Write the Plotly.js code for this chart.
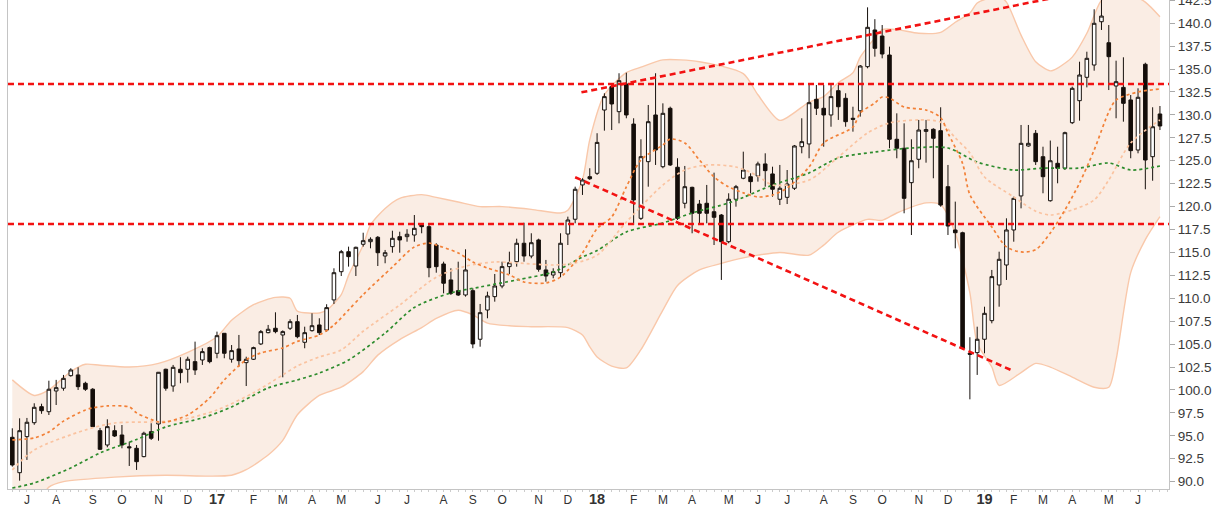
<!DOCTYPE html>
<html><head><meta charset="utf-8">
<script src="https://cdn.plot.ly/plotly-3.0.1.min.js"></script>
<style>html,body{margin:0;padding:0;background:#fff;}#chart{width:1218px;height:508px;}</style>
</head><body><div id="chart"></div>
<script>
const weeks = ['2016-06-20','2016-06-27','2016-07-04','2016-07-11','2016-07-18','2016-07-25','2016-08-01','2016-08-08','2016-08-15','2016-08-22',
'2016-08-29','2016-09-05','2016-09-12','2016-09-19','2016-09-26','2016-10-03','2016-10-10','2016-10-17','2016-10-24','2016-10-31',
'2016-11-07','2016-11-14','2016-11-21','2016-11-28','2016-12-05','2016-12-12','2016-12-19','2016-12-26','2017-01-02','2017-01-09',
'2017-01-16','2017-01-23','2017-01-30','2017-02-06','2017-02-13','2017-02-20','2017-02-27','2017-03-06','2017-03-13','2017-03-20',
'2017-03-27','2017-04-03','2017-04-10','2017-04-17','2017-04-24','2017-05-01','2017-05-08','2017-05-15','2017-05-22','2017-05-29',
'2017-06-05','2017-06-12','2017-06-19','2017-06-26','2017-07-03','2017-07-10','2017-07-17','2017-07-24','2017-07-31','2017-08-07',
'2017-08-14','2017-08-21','2017-08-28','2017-09-04','2017-09-11','2017-09-18','2017-09-25','2017-10-02','2017-10-09','2017-10-16',
'2017-10-23','2017-10-30','2017-11-06','2017-11-13','2017-11-20','2017-11-27','2017-12-04','2017-12-11','2017-12-18','2017-12-25',
'2018-01-01','2018-01-08','2018-01-15','2018-01-22','2018-01-29','2018-02-05','2018-02-12','2018-02-19','2018-02-26','2018-03-05',
'2018-03-12','2018-03-19','2018-03-26','2018-04-02','2018-04-09','2018-04-16','2018-04-23','2018-04-30','2018-05-07','2018-05-14',
'2018-05-21','2018-05-28','2018-06-04','2018-06-11','2018-06-18','2018-06-25','2018-07-02','2018-07-09','2018-07-16','2018-07-23',
'2018-07-30','2018-08-06','2018-08-13','2018-08-20','2018-08-27','2018-09-03','2018-09-10','2018-09-17','2018-09-24','2018-10-01',
'2018-10-08','2018-10-15','2018-10-22','2018-10-29','2018-11-05','2018-11-12','2018-11-19','2018-11-26','2018-12-03','2018-12-10',
'2018-12-17','2018-12-24','2018-12-31','2019-01-07','2019-01-14','2019-01-21','2019-01-28','2019-02-04','2019-02-11','2019-02-18',
'2019-02-25','2019-03-04','2019-03-11','2019-03-18','2019-03-25','2019-04-01','2019-04-08','2019-04-15','2019-04-22','2019-04-29',
'2019-05-06','2019-05-13','2019-05-20','2019-05-27','2019-06-03','2019-06-10','2019-06-17','2019-06-24'];

const open = [94.84,90.98,94.91,96.43,98.18,97.63,99.89,100.19,101.56,101.64,
100.73,100.08,95.56,94.0,95.56,95.09,93.8,93.64,92.73,95.45,
96.29,102.26,100.43,102.26,102.26,103.09,103.27,104.62,104.0,106.18,
103.35,104.47,102.98,103.35,105.02,106.25,106.73,106.0,106.73,107.45,
105.2,106.47,107.09,106.54,109.82,112.9,115.08,113.52,115.89,116.17,
116.65,114.61,115.63,116.72,116.72,116.9,117.99,117.81,115.81,113.74,
112.0,110.83,110.36,110.83,105.53,108.72,110.18,111.34,113.45,113.99,
116.0,114.61,116.36,113.09,112.54,112.79,117.01,118.62,122.36,123.26,
123.63,130.53,133.08,130.35,133.37,129.0,118.72,124.9,129.99,124.35,
130.72,124.29,120.36,122.1,120.28,120.36,119.44,119.08,116.17,120.8,
123.09,123.26,123.34,124.65,123.56,120.8,121.01,122.0,126.53,126.83,
131.7,130.72,129.99,132.64,131.81,129.63,130.45,135.26,139.26,138.6,
136.53,127.34,126.36,122.61,125.16,128.2,128.43,128.28,122.17,117.45,
117.15,104.0,104.07,105.53,107.56,111.45,113.63,117.45,121.16,126.61,
127.99,125.44,120.64,124.72,124.18,129.15,131.55,134.1,135.44,140.16,
137.87,133.15,133.0,131.63,126.17,135.52,125.44,130.1];

const high = [95.82,96.91,96.95,98.55,98.5,101.01,101.1,101.64,102.37,102.47,
100.9,100.2,95.86,96.8,96.15,96.18,94.36,94.0,95.45,96.37,
101.96,102.32,102.73,103.57,103.63,105.27,104.55,104.72,106.36,106.2,
104.9,106.0,103.63,104.72,106.54,107.09,108.47,106.5,107.71,108.18,
106.9,108.36,107.82,109.35,113.27,115.27,115.63,115.63,117.15,116.65,
116.79,115.27,117.37,117.26,117.53,119.08,118.18,117.99,116.0,113.99,
113.27,113.99,115.34,111.09,109.38,110.72,112.65,113.99,115.08,116.5,
118.24,117.09,116.5,114.18,113.27,117.09,118.9,122.17,123.09,124.18,
128.0,132.36,133.37,134.54,134.6,129.63,127.34,131.08,134.54,131.26,
130.9,125.27,124.43,122.17,120.72,122.36,123.7,119.19,121.45,122.36,
125.99,123.63,124.9,125.81,124.35,124.54,123.99,126.72,129.63,133.26,
133.26,133.26,133.26,133.26,132.36,130.89,135.44,141.73,140.44,139.8,
137.44,130.17,129.08,127.34,129.45,129.45,128.54,130.83,124.54,120.54,
117.26,105.75,106.9,109.08,113.09,115.08,118.72,121.08,128.9,128.9,
128.35,126.53,127.2,126.53,128.17,133.08,135.8,136.89,141.52,143.0,
139.8,135.91,136.28,132.17,132.9,135.69,130.83,130.97];

const low = [91.64,90.11,92.37,96.2,97.4,97.27,98.36,99.92,101.45,100.0,
99.9,95.96,93.46,93.75,94.87,93.64,91.71,91.28,92.66,94.55,
94.47,99.92,99.81,100.73,100.8,101.64,102.73,102.91,103.46,103.46,
102.98,102.54,100.43,103.27,104.9,106.18,106.18,101.38,106.54,105.64,
104.55,106.36,106.0,106.36,109.38,112.43,113.45,112.43,115.63,115.45,
113.52,113.82,114.97,114.97,116.17,116.17,117.09,112.29,112.79,110.54,
110.36,110.25,110.18,104.55,104.72,107.82,109.63,111.09,112.65,113.45,
113.99,114.36,112.9,111.81,112.18,112.29,115.81,118.18,121.27,122.9,
123.45,128.28,128.35,129.08,129.63,117.99,118.54,122.17,124.54,124.18,
124.43,118.54,119.81,117.09,118.18,118.18,115.81,112.0,116.0,119.99,
122.98,121.45,122.72,122.17,121.08,120.17,120.28,121.81,125.81,125.27,
129.99,126.53,128.71,129.45,128.71,128.17,129.81,135.08,136.35,136.17,
126.36,125.27,119.27,116.9,124.18,124.79,123.09,119.99,116.9,115.45,
104.44,98.98,101.64,104.0,107.27,109.08,112.0,116.17,119.81,126.53,
124.54,121.45,120.54,122.54,123.99,129.0,129.37,133.0,134.82,139.26,
132.71,129.63,129.26,125.27,125.81,121.89,122.82,128.35];

const close = [91.82,95.56,96.48,98.11,97.74,100.08,100.25,101.27,102.18,100.36,
100.08,96.0,93.53,96.0,94.98,94.0,93.7,92.18,95.28,94.73,
101.93,100.19,102.47,101.89,103.35,102.18,104.18,103.09,105.92,104.0,
104.29,103.2,103.35,104.62,106.36,106.62,106.36,106.36,107.45,105.81,
106.25,107.01,106.25,108.98,112.79,115.08,114.54,115.56,116.28,116.43,
114.97,114.97,116.54,116.36,116.98,117.63,117.81,113.34,113.45,111.64,
110.54,110.36,113.09,105.02,108.43,110.25,111.34,113.45,113.88,116.0,
114.61,116.06,113.16,112.43,112.9,116.0,118.54,121.89,122.9,123.04,
127.0,131.99,131.19,133.73,129.99,120.72,125.44,129.26,126.17,130.17,
124.54,118.72,122.17,119.27,119.27,119.27,118.83,116.17,120.8,122.17,
123.99,122.72,124.65,123.92,121.89,122.0,122.46,126.61,127.08,131.33,
130.72,129.99,131.99,130.89,129.26,129.52,135.33,139.55,137.26,136.64,
127.34,126.36,120.9,125.0,128.35,128.4,127.45,120.17,117.88,117.15,
104.55,103.9,105.53,108.36,112.36,114.25,117.45,120.9,126.9,126.9,
124.9,123.26,125.0,124.18,128.06,132.9,134.35,136.17,139.99,140.78,
136.35,133.62,131.26,126.1,131.92,125.08,128.71,128.79];

// Bollinger band edges, sampled at week numbers (index into weeks)
const upperWeek = [0,3,5,8,10,12,16,20,24,28,30,33,36,38,39,42,43,45,46,48,49,51,53,56,58,61,64,67,71,75,76,78,79,81,84,86,89,94,100,102,105,109,111,113,115,116,118,119,121,124,127,129,131,132,134,135,136,138,140,142,143,145,147,149,151,153,155,157];
const upperBand = [101.1,99.4,100.0,102.0,102.8,102.7,102.5,102.9,104.1,105.8,107.6,109.3,110.1,110.0,108.6,108.4,108.7,110.4,112.5,115.8,118.0,119.8,120.9,121.3,121.0,120.5,120.0,120.0,119.7,119.3,119.6,122.9,127.3,132.2,134.6,135.2,136.0,135.8,134.5,132.2,129.4,131.4,132.0,133.5,134.6,136.3,138.4,139.3,139.3,138.9,139.0,140.1,141.1,142.2,142.8,142.9,142.3,138.7,135.8,134.8,135.1,136.3,138.9,142.5,143.4,143.1,142.3,140.7];
const lowerWeek = [0,2,4,5,7,14,21,27,30,32,35,37,39,42,45,48,50,53,56,58,61,63,65,68,71,76,78,79,80,82,84,86,89,91,94,97,100,102,105,109,111,113,117,119,121,125,127,129,131,132,134,135,138,140,142,145,148,150,151,153,155,157];
const lowerBand = [81.5,85.3,88.2,89.4,90.0,90.5,90.7,90.6,90.7,91.3,92.9,94.5,97.3,99.4,100.3,102.0,103.8,105.5,106.8,107.8,108.7,108.2,107.3,107.0,106.9,106.8,106.0,104.7,103.6,102.6,102.4,104.4,108.7,111.4,113.1,113.8,114.4,114.7,115.0,114.7,115.8,117.2,118.6,118.5,119.3,120.4,120.2,117.1,110.6,105.1,102.5,100.5,101.9,102.9,102.5,101.4,100.3,100.3,103.3,112.8,116.4,118.9];

// Moving averages (dotted), sampled at week numbers
const fastWeek = [0,3,5,7,10,11,13,16,17,20,21,24,27,29,32,34,37,39,42,44,46,48,52,55,57,58,61,63,65,68,70,73,75,78,80,82,84,86,89,90,92,94,96,98,100,102,104,106,109,111,115,116,118,119,120,122,125,127,128,130,131,134,136,138,140,142,144,146,148,150,151,154,157];
const fastMA = [94.55,94.77,95.42,96.6,97.82,98.04,98.26,98.15,97.5,96.51,96.51,97.27,99.13,101.09,103.3,104.04,104.58,105.3,106.0,107.09,108.72,110.4,113.41,115.6,116.03,115.8,114.94,113.96,113.3,112.54,111.78,111.67,112.32,114.94,117.6,118.87,122.14,125.08,126.72,127.37,126.94,125.08,123.23,122.14,121.5,121.05,121.27,122.03,124.32,126.94,128.68,130.21,131.3,131.95,131.84,130.86,130.53,129.7,128.03,124.7,121.3,117.78,115.6,115.05,115.3,117.12,119.63,122.57,126.17,130.32,131.63,132.5,132.82];
const midWeek = [0,3,10,14,19,23,28,33,37,39,42,45,48,53,58,62,66,69,74,77,80,84,89,92,95,99,102,104,109,113,117,120,124,127,129,131,133,137,140,142,145,148,150,153,157];
const midMA = [91.28,93.46,95.64,96.4,96.51,96.73,97.82,99.7,101.64,102.62,103.6,104.36,106.4,109.27,112.3,113.5,113.96,113.85,113.63,113.85,114.7,118.32,122.35,123.99,124.54,124.32,123.34,122.35,122.9,125.41,128.03,129.12,129.45,129.2,127.5,125.85,123.23,121.05,119.5,119.08,119.63,120.72,122.9,126.94,129.45];
const slowWeek = [0,3,8,12,17,21,26,30,35,39,42,46,51,55,60,64,69,74,78,80,84,89,93,98,100,104,109,113,118,123,128,132,137,141,146,150,153,157];
const slowMA = [89.31,89.86,91.5,93.13,94.6,95.97,96.95,98.15,100.22,101.09,101.85,103.27,106.2,109.0,110.58,111.23,112.0,112.87,114.5,115.2,117.23,118.21,119.3,120.39,121.0,122.35,123.67,125.3,125.95,126.39,126.39,124.86,123.99,124.2,124.2,124.75,123.99,124.43];

// Horizontal support / resistance levels and trend lines
const levels = [133.37, 118.1];
const trendUpperX = ['2017-12-17','2019-03-20'];
const trendUpperY = [132.46, 142.9];
const trendLowerX = ['2017-12-11','2019-02-03'];
const trendLowerY = [123.2, 102.1];

// Axis ticks
const tickDates = ['2016-07-04','2016-08-01','2016-09-05','2016-10-03','2016-11-07','2016-12-05','2017-01-02','2017-02-06','2017-03-06','2017-04-03','2017-05-01','2017-06-05','2017-07-03','2017-08-07','2017-09-04','2017-10-02','2017-11-06','2017-12-04','2018-01-01','2018-02-05','2018-03-05','2018-04-02','2018-05-07','2018-06-04','2018-07-02','2018-08-06','2018-09-03','2018-10-01','2018-11-05','2018-12-03','2019-01-07','2019-02-04','2019-03-04','2019-04-01','2019-05-06','2019-06-03'];
const tickLabels = ['J','A','S','O','N','D','17','F','M','A','M','J','J','A','S','O','N','D','18','F','M','A','M','J','J','A','S','O','N','D','19','F','M','A','M','J'];

const yRange = [89.2, 142.53];
const pick = (idx) => idx.map(i => weeks[i]);

const bandLine = {color:'rgb(249,200,170)', width:1.4, shape:'spline', smoothing:0.7};
const traces = [
  {type:'scatter', mode:'lines', x:pick(lowerWeek), y:lowerBand, line:bandLine, hoverinfo:'skip', xaxis:'x', yaxis:'y'},
  {type:'scatter', mode:'lines', x:pick(upperWeek), y:upperBand, line:bandLine, fill:'tonexty', fillcolor:'rgb(250,237,228)', hoverinfo:'skip', xaxis:'x', yaxis:'y'},
  {type:'candlestick', x:weeks, open:open, high:high, low:low, close:close, xaxis:'x', yaxis:'y2',
   whiskerwidth:0,
   increasing:{line:{color:'#17110d', width:1}, fillcolor:'#ffffff'},
   decreasing:{line:{color:'#17110d', width:1}, fillcolor:'#140d09'},
   hoverinfo:'skip'},
  {type:'scatter', mode:'lines', x:pick(slowWeek), y:slowMA, line:{color:'rgb(45,140,45)', width:1.7, dash:'dot', shape:'spline', smoothing:0.8}, xaxis:'x', yaxis:'y3', hoverinfo:'skip'},
  {type:'scatter', mode:'lines', x:pick(midWeek), y:midMA, line:{color:'rgb(250,195,160)', width:1.7, dash:'dot', shape:'spline', smoothing:0.8}, xaxis:'x', yaxis:'y3', hoverinfo:'skip'},
  {type:'scatter', mode:'lines', x:pick(fastWeek), y:fastMA, line:{color:'rgb(242,128,55)', width:1.7, dash:'dot', shape:'spline', smoothing:0.8}, xaxis:'x', yaxis:'y3', hoverinfo:'skip'}
];

const redLine = {color:'#f21212', width:2.6, dash:'6px,4px'};
const shapes = levels.map(v => ({type:'line', xref:'paper', x0:0, x1:1, yref:'y', y0:v, y1:v, line:redLine, layer:'above'}));
shapes.push({type:'line', xref:'x', yref:'y', x0:trendUpperX[0], x1:trendUpperX[1], y0:trendUpperY[0], y1:trendUpperY[1], line:redLine, layer:'above'});
shapes.push({type:'line', xref:'x', yref:'y', x0:trendLowerX[0], x1:trendLowerX[1], y0:trendLowerY[0], y1:trendLowerY[1], line:redLine, layer:'above'});

const ticktext = tickLabels.map(t => /\d/.test(t) ? '<span style="font-size:14.5px"><b>' + t + '</b></span>' : t);

const layout = {
  width:1218, height:508,
  margin:{l:8, r:49, t:0, b:19},
  paper_bgcolor:'#ffffff', plot_bgcolor:'#ffffff',
  showlegend:false, hovermode:false, boxgap:0.3,
  font:{family:'"Liberation Sans", Arial, sans-serif', color:'#333'},
  xaxis:{type:'date', range:['2016-06-15 21:00','2019-07-02 16:00'], tickmode:'array', tickvals:tickDates, ticktext:ticktext,
    ticks:'', showline:true, linecolor:'#c4c4c4', linewidth:1, ticklabeloverflow:'allow',
    showgrid:false, zeroline:false, rangeslider:{visible:false}, fixedrange:true,
    tickfont:{size:12, color:'#333'},
    minor:{tickmode:'linear', tick0:'2016-06-20', dtick:604800000, ticks:'outside', ticklen:2, tickcolor:'#cccccc', showgrid:false}},
  yaxis:{range:yRange, side:'right', tickmode:'linear', tick0:90, dtick:2.5, tickformat:'.1f',
    ticks:'outside', ticklen:5, tickcolor:'#aaaaaa', showline:true, mirror:true, linecolor:'#c4c4c4', linewidth:1,
    ticklabeloverflow:'allow',
    showgrid:false, zeroline:false, fixedrange:true, tickfont:{size:13.5, color:'#3a3a3a'}},
  yaxis2:{range:yRange, overlaying:'y', visible:false, fixedrange:true},
  yaxis3:{range:yRange, overlaying:'y', visible:false, fixedrange:true},
  shapes:shapes
};

Plotly.newPlot('chart', traces, layout, {staticPlot:true, displayModeBar:false});
</script></body></html>
